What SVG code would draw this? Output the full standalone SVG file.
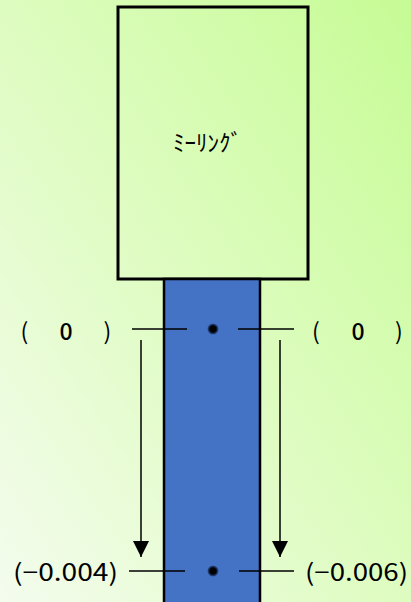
<svg xmlns="http://www.w3.org/2000/svg" width="411" height="602" viewBox="0 0 411 602">
<style>
.t{font-family:"Noto Sans CJK JP","Noto Sans",sans-serif;fill:#000}
.l{stroke:#000;stroke-width:1.5;fill:none}
</style>
<defs>
<linearGradient id="bg" x1="1" y1="0" x2="0" y2="1">
<stop offset="0" stop-color="#c6fb95"/>
<stop offset="0.55" stop-color="#e0fcc4"/>
<stop offset="1" stop-color="#f4fcee"/>
</linearGradient>
<radialGradient id="dot">
<stop offset="0.55" stop-color="#000"/>
<stop offset="0.8" stop-color="#1a2e5a"/>
<stop offset="1" stop-color="#2f5597"/>
</radialGradient>
<marker id="ah" viewBox="0 0 16 16" refX="16" refY="8" markerWidth="16" markerHeight="16" markerUnits="userSpaceOnUse" orient="auto">
<path d="M0,0 L16,8 L0,16 Z" fill="#000"/>
</marker>
</defs>
<rect width="411" height="602" fill="url(#bg)"/>
<g id="milling">
<rect x="118" y="7" width="190" height="272" fill="none" stroke="#000" stroke-width="3"/>
<text class="t" x="207.5" y="151" font-size="23" text-anchor="middle">ﾐｰﾘﾝｸﾞ</text>
</g>
<g id="bar">
<rect x="164" y="279" width="96" height="330" fill="#4472c4" stroke="#000" stroke-width="2.5"/>
</g>
<g id="connectors">
<line class="l" x1="132" y1="329" x2="187" y2="329"/>
<line class="l" x1="238" y1="329" x2="294" y2="329"/>
<line class="l" x1="129" y1="571" x2="185" y2="571"/>
<line class="l" x1="239" y1="571" x2="294" y2="571"/>
<line class="l" x1="141" y1="340" x2="141" y2="557" marker-end="url(#ah)"/>
<line class="l" x1="280" y1="340" x2="280" y2="557" marker-end="url(#ah)"/>
</g>
<g id="dot-top"><circle cx="213" cy="329" r="5.5" fill="url(#dot)"/></g>
<g id="dot-bottom"><circle cx="213" cy="571" r="5.5" fill="url(#dot)"/></g>
<g id="label-tl"><text class="t" y="340" font-size="23" text-anchor="middle"><tspan x="24.5">(</tspan><tspan x="66" font-weight="500">0</tspan><tspan x="107.5">)</tspan></text></g>
<g id="label-tr"><text class="t" y="340" font-size="23" text-anchor="middle"><tspan x="316">(</tspan><tspan x="358" font-weight="500">0</tspan><tspan x="399">)</tspan></text></g>
<g id="label-bl"><text class="t" x="13" y="581" font-size="24" textLength="105" lengthAdjust="spacingAndGlyphs">(−0.004)</text></g>
<g id="label-br"><text class="t" x="305" y="581" font-size="24" textLength="103" lengthAdjust="spacingAndGlyphs">(−0.006)</text></g>
</svg>
